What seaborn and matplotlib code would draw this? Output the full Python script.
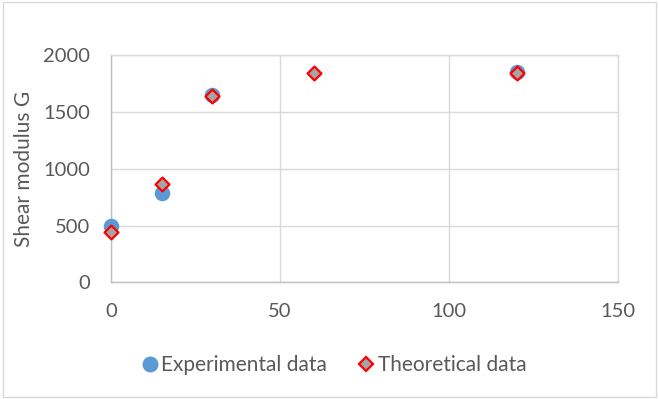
import matplotlib
matplotlib.use("Agg")
import matplotlib.pyplot as plt
import seaborn as sns
import pandas as pd
from matplotlib.lines import Line2D
from matplotlib.patches import Rectangle

exp_x = [0, 15, 30, 120]
exp_y = [500, 790, 1650, 1850]
theo_x = [0, 15, 30, 60, 120]
theo_y = [445, 870, 1640, 1845, 1845]
series = ["Experimental data", "Theoretical data"]
x_ticks = [0, 50, 100, 150]
y_ticks = [0, 500, 1000, 1500, 2000]
y_label = "Shear modulus G"

sns.set_theme(style="white")
plt.rcParams["font.family"] = ["Lato", "DejaVu Sans"]

TXT = "#595959"
GRID = "#d9d9d9"

df = pd.DataFrame({
    "x": exp_x + theo_x,
    "y": exp_y + theo_y,
    "series": [series[0]] * len(exp_x) + [series[1]] * len(theo_x),
})

fig = plt.figure(figsize=(6.59, 3.99), dpi=100)
x0, x1 = 0.1684, 0.9378
ax = fig.add_axes([x0, 0.2925, x1 - x0, 0.8614 - 0.2925])

sns.scatterplot(data=df[df.series == series[0]], x="x", y="y", ax=ax,
                color="#5B9BD5", marker="o", s=125, linewidth=0, legend=False,
                zorder=3, clip_on=False)
sns.scatterplot(data=df[df.series == series[1]], x="x", y="y", ax=ax,
                color="#A5A5A5", marker="D", s=50, edgecolor="#FF0000", linewidth=1.6,
                legend=False, zorder=4, clip_on=False)

ax.set_xlim(0, 150)
ax.set_ylim(0, 2000)
ax.set_xticks(x_ticks)
ax.set_yticks(y_ticks)
ax.grid(True, color=GRID, linewidth=1)
ax.set_axisbelow(True)
for s in ax.spines.values():
    s.set_color(GRID)
    s.set_linewidth(1)
ax.spines["left"].set_color("#bfbfbf")
ax.spines["bottom"].set_color("#bfbfbf")
ax.tick_params(axis="both", length=0, labelsize=14.5, labelcolor=TXT, pad=15)
ax.set_xlabel("")
ax.set_ylabel(y_label, fontsize=15, color=TXT)
ax.yaxis.set_label_coords((34 / 659 - x0) / (x1 - x0), 0.5)

handles = [
    Line2D([], [], marker="o", linestyle="", markersize=11.5, markerfacecolor="#5B9BD5",
           markeredgewidth=0),
    Line2D([], [], marker="D", linestyle="", markersize=7.5, markerfacecolor="#A5A5A5",
           markeredgecolor="#FF0000", markeredgewidth=1.6),
]
fig.legend(handles, series, loc="center", bbox_to_anchor=(0.505, 0.085), ncol=2,
           frameon=False, fontsize=15, labelcolor=TXT, handletextpad=0.05,
           columnspacing=1.4, handlelength=1.0)

fig.patches.append(Rectangle((0.005, 0.005), 0.99, 0.99, transform=fig.transFigure,
                             fill=False, edgecolor="#d9d9d9", linewidth=1))

fig.savefig("out.png", dpi=100)
